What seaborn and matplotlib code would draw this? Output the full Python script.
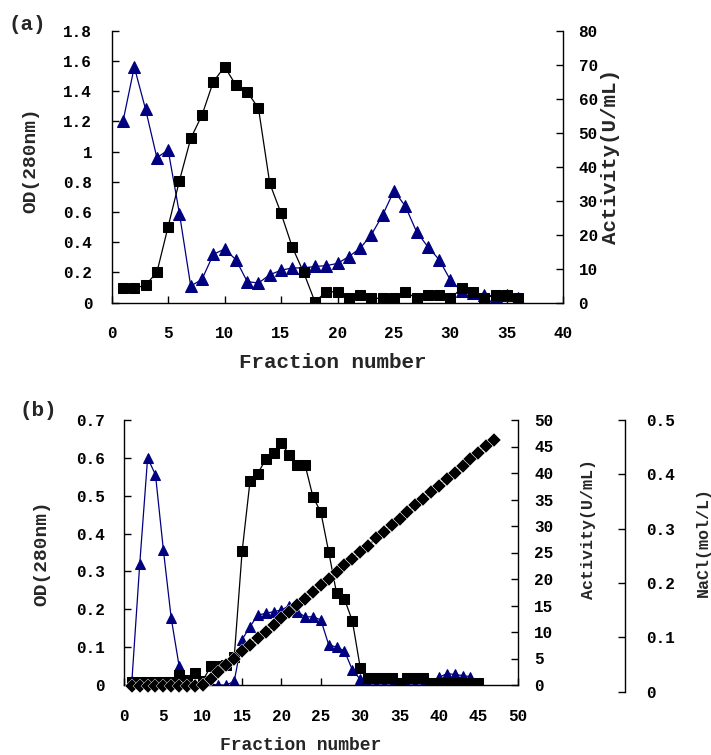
import numpy as np
import pandas as pd
import seaborn as sns
import matplotlib.pyplot as plt

# ---- panel (a) ----
frac_a = list(range(1, 37))
od_a = [1.2, 1.56, 1.28, 0.96, 1.01, 0.59, 0.11, 0.155, 0.32, 0.355, 0.285, 0.14,
        0.13, 0.185, 0.215, 0.23, 0.23, 0.24, 0.245, 0.26, 0.305, 0.36, 0.45, 0.58,
        0.74, 0.64, 0.47, 0.37, 0.285, 0.15, 0.075, 0.065, 0.05, 0.045, 0.05, 0.03]
act_a = [4.2, 4.2, 5.2, 8.9, 22.4, 35.9, 48.3, 55.2, 65, 69.4, 64, 62,
         57.2, 35.1, 26.3, 16.3, 8.9, 0.3, 3.2, 3.2, 1.3, 2.3, 1.3, 1.3,
         1.3, 3.2, 1.3, 2.3, 2.3, 1.3, 4.2, 3.2, 1.3, 2.3, 2.3, 1.3]

# ---- panel (b) ----
frac_b = list(range(1, 46))
od_b = [0.01, 0.32, 0.6, 0.555, 0.357, 0.176, 0.05, 0.003, 0.002, 0.002, 0.002, 0.0,
        0.0, 0.01, 0.12, 0.154, 0.185, 0.189, 0.194, 0.198, 0.21, 0.194, 0.18, 0.18,
        0.172, 0.106, 0.1, 0.09, 0.04, 0.015, 0.0, 0.0, 0.0, 0.0, 0.005, 0.0,
        0.0, 0.0, 0.005, 0.02, 0.03, 0.028, 0.025, 0.022, 0.005]
act_b = [0.6, 0.6, 0.6, 0.6, 0.6, 0.6, 1.8, 1.0, 2.3, 0.8, 3.5, 3.5,
         3.8, 5.3, 25.2, 38.4, 39.9, 42.6, 43.7, 45.6, 43.4, 41.5, 41.5, 35.5,
         32.6, 25.1, 17.3, 16.2, 12.1, 3.3, 1.3, 1.3, 1.3, 1.3, 0.3, 1.3,
         1.3, 1.3, 0.4, 0.4, 0.4, 0.4, 0.4, 0.4, 0.4]
frac_nacl = list(range(1, 48))
nacl_b = [0.01, 0.01, 0.01, 0.01, 0.01, 0.01, 0.01, 0.01, 0.01, 0.012, 0.024, 0.036,
          0.049, 0.061, 0.074, 0.086, 0.098, 0.11, 0.122, 0.135, 0.147, 0.159, 0.171, 0.183,
          0.196, 0.208, 0.221, 0.233, 0.245, 0.257, 0.269, 0.282, 0.294, 0.306, 0.318, 0.33,
          0.343, 0.355, 0.367, 0.379, 0.391, 0.403, 0.416, 0.428, 0.44, 0.452, 0.464]

yticks_a = ["0", "0.2", "0.4", "0.6", "0.8", "1", "1.2", "1.4", "1.6", "1.8"]
yticks_b = ["0", "0.1", "0.2", "0.3", "0.4", "0.5", "0.6", "0.7"]
nacl_ticks = ["0", "0.1", "0.2", "0.3", "0.4", "0.5"]

sns.set_style("ticks")
plt.rcParams["font.family"] = ["Liberation Mono", "DejaVu Sans"]
plt.rcParams["font.weight"] = "bold"

W, H = 711, 755
fig = plt.figure(figsize=(W / 100, H / 100), dpi=100)

def box(l, t, r, b):
    return [l / W, 1 - b / H, (r - l) / W, (b - t) / H]

def style(ax, pad):
    ax.tick_params(direction="in", length=5, width=1, labelsize=11.5, pad=pad, colors="black")
    for s in ax.spines.values():
        s.set_linewidth(1)
        s.set_color("black")

navy = "#000080"
line_kw = dict(linewidth=0.9)

# ---------- (a) ----------
ax1 = fig.add_axes(box(111.7, 30.7, 563.3, 302.7))
ax1r = ax1.twinx()
sns.lineplot(x=frac_a, y=od_a, ax=ax1, color=navy, marker="^", markersize=8,
             markeredgecolor=navy, **line_kw)
sns.lineplot(x=frac_a, y=act_a, ax=ax1r, color="black", marker="s", markersize=7.2,
             markeredgecolor="black", **line_kw)
ax1.set_xlim(0, 40)
ax1.set_ylim(0, 1.8)
ax1.set_xticks(np.arange(0, 41, 5))
ax1.set_yticks(np.arange(0, 1.81, 0.2))
ax1.set_yticklabels(yticks_a)
ax1r.set_ylim(0, 80)
ax1r.set_yticks(np.arange(0, 81, 10))
ax1.spines["top"].set_visible(False)
ax1.spines["right"].set_visible(False)
for s in ["top", "left", "bottom"]:
    ax1r.spines[s].set_visible(False)
style(ax1, 14)
ax1.tick_params(axis="x", pad=17)
style(ax1r, 11)
ax1.set_xlabel("")
ax1.set_ylabel("")
ax1r.set_ylabel("")

fig.text(27 / W, 1 - 25 / H, "(a)", fontsize=15, ha="center", va="center")
fig.text(30.5 / W, 1 - 160 / H, "OD(280nm)", fontsize=14, rotation=90, ha="center", va="center")
fig.text(611 / W, 1 - 157 / H, "Activity(U/mL)", fontsize=15, rotation=90, ha="center", va="center")
fig.text(333 / W, 1 - 363 / H, "Fraction number", fontsize=15, ha="center", va="center")

# ---------- (b) ----------
ax2 = fig.add_axes(box(124, 420, 517.7, 685))
ax2r = ax2.twinx()
ax3 = fig.add_axes(box(124, 420, 517.7, 691.7))
ax3.patch.set_visible(False)
sns.lineplot(x=frac_b, y=od_b, ax=ax2, color=navy, marker="^", markersize=6.5,
             markeredgecolor=navy, **line_kw)
sns.lineplot(x=frac_b, y=act_b, ax=ax2r, color="black", marker="s", markersize=6.5,
             markeredgecolor="black", **line_kw)
sns.lineplot(x=frac_nacl, y=nacl_b, ax=ax3, color="black", marker="D", markersize=7,
             markeredgecolor="white", markeredgewidth=0.3, **line_kw)
ax2.set_xlim(0, 50)
ax2.set_ylim(0, 0.7)
ax2.set_xticks(np.arange(0, 51, 5))
ax2.set_yticks(np.arange(0, 0.71, 0.1))
ax2.set_yticklabels(yticks_b)
ax2r.set_ylim(0, 50)
ax2r.set_yticks(np.arange(0, 51, 5))
ax3.set_xlim(0, 50)
ax3.set_ylim(0, 0.5)
ax3.set_yticks(np.arange(0, 0.51, 0.1))
ax3.set_yticklabels(nacl_ticks)
ax3.yaxis.tick_right()
ax3.xaxis.set_visible(False)
ax3.spines["right"].set_position(("axes", (625 - 124) / 393.7))
for s in ["top", "left", "bottom"]:
    ax3.spines[s].set_visible(False)
ax2.spines["top"].set_visible(False)
ax2.spines["right"].set_visible(False)
for s in ["top", "left", "bottom"]:
    ax2r.spines[s].set_visible(False)
style(ax2, 14)
ax2.tick_params(axis="x", pad=17)
style(ax2r, 12)
style(ax3, 15)
for a in (ax2, ax2r, ax3):
    a.set_xlabel("")
    a.set_ylabel("")

fig.text(38 / W, 1 - 410 / H, "(b)", fontsize=15, ha="center", va="center")
fig.text(41.7 / W, 1 - 553 / H, "OD(280nm)", fontsize=14, rotation=90, ha="center", va="center")
fig.text(588 / W, 1 - 529 / H, "Activity(U/mL)", fontsize=12, rotation=90, ha="center", va="center")
fig.text(703 / W, 1 - 542 / H, "NaCl(mol/L)", fontsize=12, rotation=90, ha="center", va="center")
fig.text(301 / W, 1 - 745 / H, "Fraction number", fontsize=13, ha="center", va="center")

fig.savefig("out.png", dpi=100)
